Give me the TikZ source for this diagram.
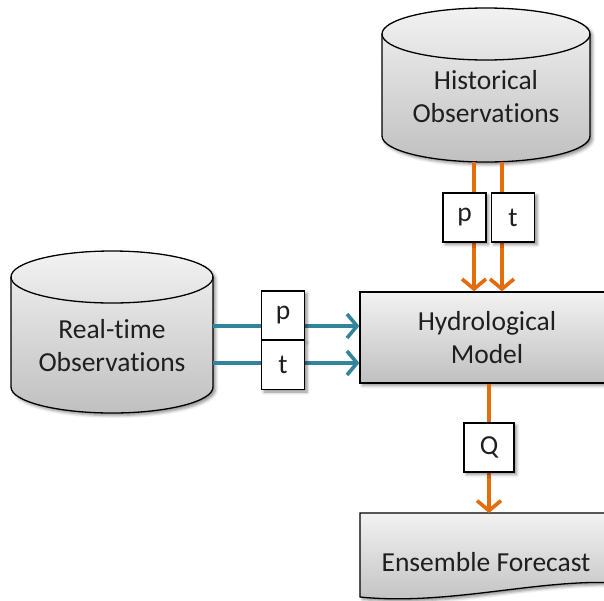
\documentclass[tikz,border=0pt]{standalone}
\usepackage{fontspec}
\setmainfont{Carlito}[Ligatures=NoCommon]
\usetikzlibrary{arrows.meta,shadows.blur,calc}

\definecolor{flowOrange}{HTML}{E46C0A}
\definecolor{flowBlue}{HTML}{31849B}
\definecolor{shadeTop}{HTML}{F2F2F2}
\definecolor{shadeBot}{HTML}{C0C0C0}

\tikzset{
  softshadow/.style={blur shadow={shadow xshift=2.5pt,shadow yshift=-2.5pt,
      shadow blur radius=3pt,shadow opacity=45}},
  solid3d/.style={draw=black,line width=1.3pt,top color=shadeTop,
      bottom color=shadeBot,softshadow},
  rimline/.style={draw=black,line width=1.3pt},
  anchorbox/.style={inner sep=0pt,outer sep=0pt},
  caption/.style={font=\fontsize{27.5}{33}\selectfont,align=center,text=black!88},
  modelbox/.style={solid3d,rectangle,inner sep=0pt,caption},
  tagbox/.style={draw=black,line width=1.2pt,fill=white,inner sep=0pt,
      minimum width=43pt,minimum height=49pt,softshadow,
      font=\fontsize{27.5}{33}\selectfont,text=black!88},
  orangeflow/.style={draw=flowOrange,line width=3.6pt,
      -{Straight Barb[length=10pt,width=24pt,line width=3.6pt]}},
  blueflow/.style={draw=flowBlue,line width=3.6pt,
      -{Straight Barb[length=10pt,width=24pt,line width=3.6pt]}},
}

% drum: centre x, top-rim y, bottom-rim y, x radius, y radius
\newcommand\drumshape[5]{%
  \path[solid3d] (#1-#4,-#2) -- (#1-#4,-#3)
    arc[start angle=180,end angle=360,x radius=#4pt,y radius=#5pt]
    -- (#1+#4,-#2)
    arc[start angle=0,end angle=180,x radius=#4pt,y radius=#5pt] -- cycle;
  \draw[rimline] (#1-#4,-#2)
    arc[start angle=180,end angle=360,x radius=#4pt,y radius=#5pt];
}

\begin{document}
\begin{tikzpicture}[x=1pt,y=1pt]
\useasboundingbox (0,0) rectangle (604,-600);
\clip (0,0) rectangle (604,-600);

% --- data stores ---
\drumshape{486}{34}{136}{104}{26}
\node[anchorbox,minimum width=208pt,minimum height=154pt] (hist) at (486,-85) {};
\node[caption] (histtxt) at (486,-97) {Historical\\Observations};

\drumshape{112}{277}{387}{101}{26}
\node[anchorbox,minimum width=202pt,minimum height=162pt] (rt) at (112,-332) {};
\node[caption] (rttxt) at (112,-346) {Real-time\\Observations};

% --- model ---
\node[modelbox,minimum width=254pt,minimum height=91pt] (model) at (487,-337.5)
  {Hydrological\\Model};

% --- forecast document ---
\path[solid3d] (360,-513) -- (620,-513) -- (620,-583)
  .. controls (540,-578) and (450,-606) .. (360,-597) -- cycle;
\node[anchorbox,minimum width=260pt,minimum height=84pt] (ens) at (490,-555) {};
\node[caption] (enstxt) at (486,-562) {Ensemble Forecast};

% --- flows ---
\draw[orangeflow] ([xshift=-12pt]hist.south) -- ([xshift=-12pt]hist.south |- model.north);
\draw[orangeflow] ([xshift=16pt]hist.south) -- ([xshift=16pt]hist.south |- model.north);
\draw[blueflow] ([yshift=6pt]rt.east) -- ([yshift=6pt]rt.east -| model.west);
\draw[blueflow] ([yshift=-31pt]rt.east) -- ([yshift=-31pt]rt.east -| model.west);
\draw[orangeflow] ([xshift=2pt]model.south) -- ([xshift=2pt]model.south |- ens.north);

% --- variable tags ---
\node[tagbox] (hp) at (464.5,-217.5) {p};
\node[tagbox] (ht) at (513,-217.5) {t};
\node[tagbox] (rp) at (283,-315.5) {p};
\node[tagbox] (rtt) at (283,-365) {t};
\node[tagbox,minimum width=50pt] (qq) at (489,-447.5) {Q};
\end{tikzpicture}
\end{document}
